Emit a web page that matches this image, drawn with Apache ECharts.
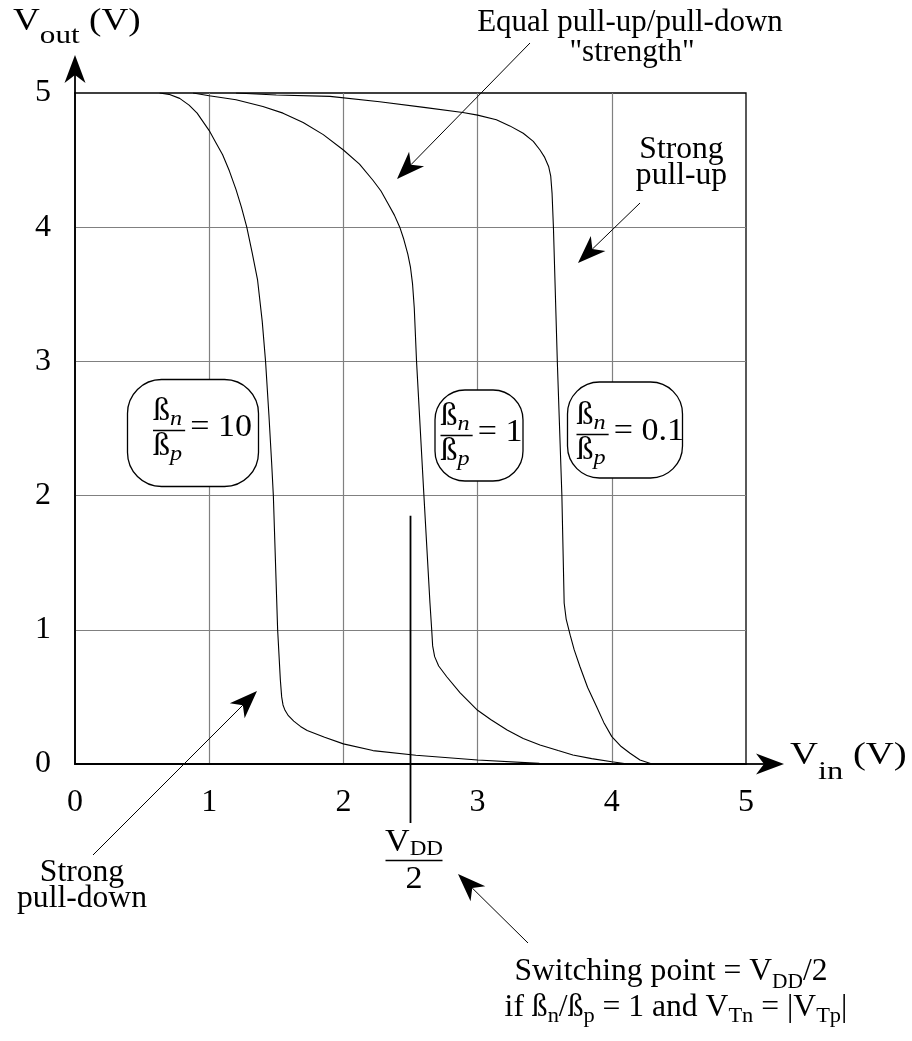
<!DOCTYPE html>
<html>
<head>
<meta charset="utf-8">
<title>CMOS inverter transfer characteristics</title>
<script src="https://cdn.jsdelivr.net/npm/echarts@6/dist/echarts.min.js"></script>
<style>
  html, body { margin: 0; padding: 0; background: #fff; }
  #chart { width: 912px; height: 1041px; }
</style>
</head>
<body>
<div id="chart"></div>
<script>
// Inverter voltage transfer characteristics for three beta ratios.

const VDD = 5;
const tickLabels = ['0', '1', '2', '3', '4', '5'];

// βn/βp = 10 : strong pull-down
const strongDownVin  = [0.63, 0.70, 0.78, 0.85, 0.91, 1.00, 1.05, 1.10, 1.15, 1.20, 1.24, 1.28, 1.32, 1.36, 1.395, 1.42, 1.445, 1.465, 1.478, 1.51, 1.53, 1.54, 1.55, 1.565, 1.59, 1.63, 1.68, 1.73, 1.86, 2.00, 2.22, 2.54, 3.00, 3.46, 3.64];
const strongDownVout = [5.00, 4.99, 4.96, 4.91, 4.85, 4.72, 4.63, 4.54, 4.42, 4.28, 4.15, 4.00, 3.81, 3.61, 3.30, 3.00, 2.60, 2.25, 2.00, 1.00, 0.63, 0.50, 0.44, 0.40, 0.36, 0.32, 0.28, 0.25, 0.20, 0.15, 0.10, 0.065, 0.03, 0.005, 0.00];

// βn/βp = 1 : equal strength
const equalVin  = [0.88, 1.00, 1.20, 1.40, 1.55, 1.70, 1.85, 2.00, 2.12, 2.22, 2.28, 2.33, 2.38, 2.42, 2.45, 2.48, 2.50, 2.515, 2.528, 2.545, 2.60, 2.645, 2.658, 2.665, 2.68, 2.71, 2.77, 2.87, 3.00, 3.10, 3.22, 3.34, 3.465, 3.60, 3.71, 3.85, 4.00, 4.12];
const equalVout = [5.00, 4.98, 4.95, 4.90, 4.85, 4.78, 4.69, 4.575, 4.47, 4.35, 4.27, 4.18, 4.09, 4.00, 3.91, 3.80, 3.70, 3.58, 3.40, 3.00, 2.00, 1.20, 1.00, 0.88, 0.80, 0.73, 0.65, 0.53, 0.40, 0.33, 0.253, 0.19, 0.142, 0.10, 0.067, 0.04, 0.017, 0.00];

// βn/βp = 0.1 : strong pull-up
const strongUpVin  = [1.20, 1.50, 1.90, 2.27, 2.60, 2.89, 3.00, 3.14, 3.24, 3.34, 3.415, 3.465, 3.50, 3.53, 3.545, 3.555, 3.565, 3.594, 3.628, 3.645, 3.66, 3.69, 3.72, 3.763, 3.82, 3.887, 3.94, 4.00, 4.07, 4.136, 4.21, 4.30];
const strongUpVout = [5.00, 4.985, 4.975, 4.935, 4.893, 4.855, 4.835, 4.80, 4.755, 4.70, 4.64, 4.575, 4.52, 4.45, 4.38, 4.25, 4.00, 3.00, 2.00, 1.20, 1.08, 0.96, 0.85, 0.725, 0.57, 0.427, 0.31, 0.204, 0.13, 0.08, 0.03, 0.00];

const ratioValues = ['10', '1', '0.1'];

// Marker for the switching point V_DD/2
const markerVout = [1.85, -0.44];

const FONT = '"Liberation Serif", "Times New Roman", Times, serif';
const measureCtx = document.createElement('canvas').getContext('2d');

function textWidth(str, size, italic) {
  measureCtx.font = (italic ? 'italic ' : '') + size + 'px ' + FONT;
  return measureCtx.measureText(str).width;
}

// A single text run placed by its alphabetic baseline
function piece(str, x, base, size, italic, sx) {
  return {
    type: 'text', x: x, y: base - 0.3375 * size, scaleX: sx || 1, z: 100, silent: true,
    style: {
      text: str, x: 0, y: 0, fontSize: size, fontFamily: FONT,
      fontStyle: italic ? 'italic' : 'normal', fill: '#000',
      align: 'left', verticalAlign: 'middle'
    }
  };
}

// A run of text pieces with their own sizes and baseline shifts (subscripts)
function seq(parts, x, base, align, sx) {
  sx = sx || 1;
  const widths = parts.map(p => textWidth(p[0], p[1], p[3]) * sx);
  const total = widths.reduce((a, b) => a + b, 0);
  let cx = align === 'center' ? x - total / 2 : x;
  const out = [];
  parts.forEach((p, i) => {
    out.push(piece(p[0], cx, base + (p[2] || 0), p[1], p[3], sx));
    cx += widths[i];
  });
  out.width = total;
  return out;
}

// Straight arrow with a notched, filled head at (x2, y2)
function arrow(x1, y1, x2, y2, lw) {
  const dx = x2 - x1, dy = y2 - y1, len = Math.hypot(dx, dy);
  const ux = dx / len, uy = dy / len, px = -uy, py = ux;
  const L = 28, W = 10.5, N = 20;
  const bx = x2 - ux * L, by = y2 - uy * L;
  const nx = x2 - ux * N, ny = y2 - uy * N;
  return [
    { type: 'line', z: 100, silent: true, shape: { x1: x1, y1: y1, x2: nx, y2: ny }, style: { stroke: '#000', lineWidth: lw } },
    { type: 'polygon', z: 100, silent: true,
      shape: { points: [[x2, y2], [bx + px * W, by + py * W], [nx, ny], [bx - px * W, by - py * W]] },
      style: { fill: '#000' } }
  ];
}

// Rounded label box holding  ßn/ßp = value
function ratioBox(rect, left, barY, value) {
  const els = [];
  els.push({ type: 'rect', z: 90, silent: true,
    shape: { x: rect[0], y: rect[1], width: rect[2], height: rect[3], r: rect[4] },
    style: { fill: '#fff', stroke: '#000', lineWidth: 1.3 } });
  const sx = 1.1;
  const num = seq([['ß', 31, 0], ['n', 22, 4, true]], left, barY - 8, 'left', sx);
  const den = seq([['ß', 31, 0], ['p', 22, 4, true]], left, barY + 27, 'left', sx);
  const barW = Math.max(num.width, den.width) + 3;
  els.push(...num, ...den);
  els.push({ type: 'line', z: 100, silent: true,
    shape: { x1: left, y1: barY, x2: left + barW, y2: barY },
    style: { stroke: '#000', lineWidth: 1.3 } });
  els.push(...seq([['= ' + value, 31, 0]], left + barW + 5, barY + 8, 'left', sx));
  return els;
}

const chart = echarts.init(document.getElementById('chart'), null, { renderer: 'canvas' });

const curves = [
  { name: 'strong pull-down', vin: strongDownVin, vout: strongDownVout },
  { name: 'equal', vin: equalVin, vout: equalVout },
  { name: 'strong pull-up', vin: strongUpVin, vout: strongUpVout }
];

const axisCommon = {
  type: 'value', min: 0, max: 5, interval: 1,
  axisLine: { show: true, onZero: false, lineStyle: { color: '#000', width: 1.8 } },
  axisTick: { show: false },
  splitLine: { show: true, showMinLine: false, showMaxLine: false, lineStyle: { color: '#808080', width: 1.2 } }
};

const graphics = [];
// axis arrows
graphics.push(...arrow(745, 764, 784, 764, 1.8));
graphics.push(...arrow(75, 94, 75, 55, 1.8));
// axis titles
graphics.push(...seq([['V', 31, 0], ['out', 26, 12], [' (V)', 31, 0]], 13, 32.5, 'left', 1.2));
graphics.push(...seq([['V', 31, 0], ['in', 26, 14], [' (V)', 31, 0]], 790, 766.5, 'left', 1.25));
// annotations
graphics.push(...seq([['Equal pull-up/pull-down', 31, 0]], 630, 33, 'center'));
graphics.push(...seq([['"strength"', 31, 0]], 632, 63, 'center'));
graphics.push(...arrow(530, 43, 397, 179, 1));
graphics.push(...seq([['Strong', 31, 0]], 681.5, 160.5, 'center', 1.02));
graphics.push(...seq([['pull-up', 31, 0]], 681.5, 186.5, 'center', 1.02));
graphics.push(...arrow(640, 203, 578, 263, 1));
graphics.push(...seq([['Strong', 31, 0]], 82, 883, 'center', 1.02));
graphics.push(...seq([['pull-down', 31, 0]], 82, 909, 'center', 1.02));
graphics.push(...arrow(93, 855, 257, 691, 1));
// V_DD / 2
graphics.push(...seq([['V', 31, 0], ['DD', 21, 4]], 414, 853, 'center', 1.1));
graphics.push({ type: 'line', z: 100, silent: true, shape: { x1: 414 - 28.5, y1: 860.5, x2: 414 + 28.5, y2: 860.5 }, style: { stroke: '#000', lineWidth: 1.5 } });
graphics.push(...seq([['2', 31, 0]], 414, 890, 'center', 1.1));
graphics.push(...arrow(528, 943, 458, 874, 1));
graphics.push(...seq([['Switching point = V', 31, 0], ['DD', 21, 8], ['/2', 31, 0]], 671, 982, 'center', 1.02));
graphics.push(...seq([['if ß', 31, 0], ['n', 22, 6], ['/ß', 31, 0], ['p', 22, 6], [' = 1 and V', 31, 0], ['Tn', 22, 6], [' = |V', 31, 0], ['Tp', 22, 6], ['|', 31, 0]], 676, 1018, 'center', 1.02));
// ratio boxes
graphics.push(...ratioBox([127.5, 379.5, 131, 107, 34], 153, 430.5, ratioValues[0]));
graphics.push(...ratioBox([435, 390, 88, 91, 30], 440.5, 435.5, ratioValues[1]));
graphics.push(...ratioBox([567.5, 382, 115, 96, 32], 576.5, 434.5, ratioValues[2]));

const option = {
  animation: false,
  backgroundColor: '#fff',
  grid: {
    left: 75, top: 93, width: 671, height: 671,
    show: true, borderColor: '#000', borderWidth: 1.3, backgroundColor: 'transparent',
    containLabel: false, outerBoundsMode: 'none'
  },
  xAxis: Object.assign({}, axisCommon, {
    axisLabel: {
      margin: 23, fontSize: 32, fontFamily: FONT, color: '#000',
      formatter: v => tickLabels[Math.round(v)]
    }
  }),
  yAxis: Object.assign({}, axisCommon, {
    axisLabel: {
      margin: 24, fontSize: 32, fontFamily: FONT, color: '#000', padding: [5, 0, 0, 0],
      formatter: v => tickLabels[Math.round(v)]
    }
  }),
  series: curves.map(c => ({
    name: c.name,
    type: 'line',
    data: c.vin.map((v, i) => [v, c.vout[i]]),
    showSymbol: false, symbol: 'none', silent: true, z: 3,
    lineStyle: { color: '#000', width: 1.1 }
  })).concat([{
    name: 'VDD/2',
    type: 'line',
    data: markerVout.map(v => [VDD / 2, v]),
    showSymbol: false, symbol: 'none', silent: true, clip: false, z: 3,
    lineStyle: { color: '#000', width: 1.8 }
  }]),
  graphic: { elements: graphics }
};

chart.setOption(option);
</script>
</body>
</html>
